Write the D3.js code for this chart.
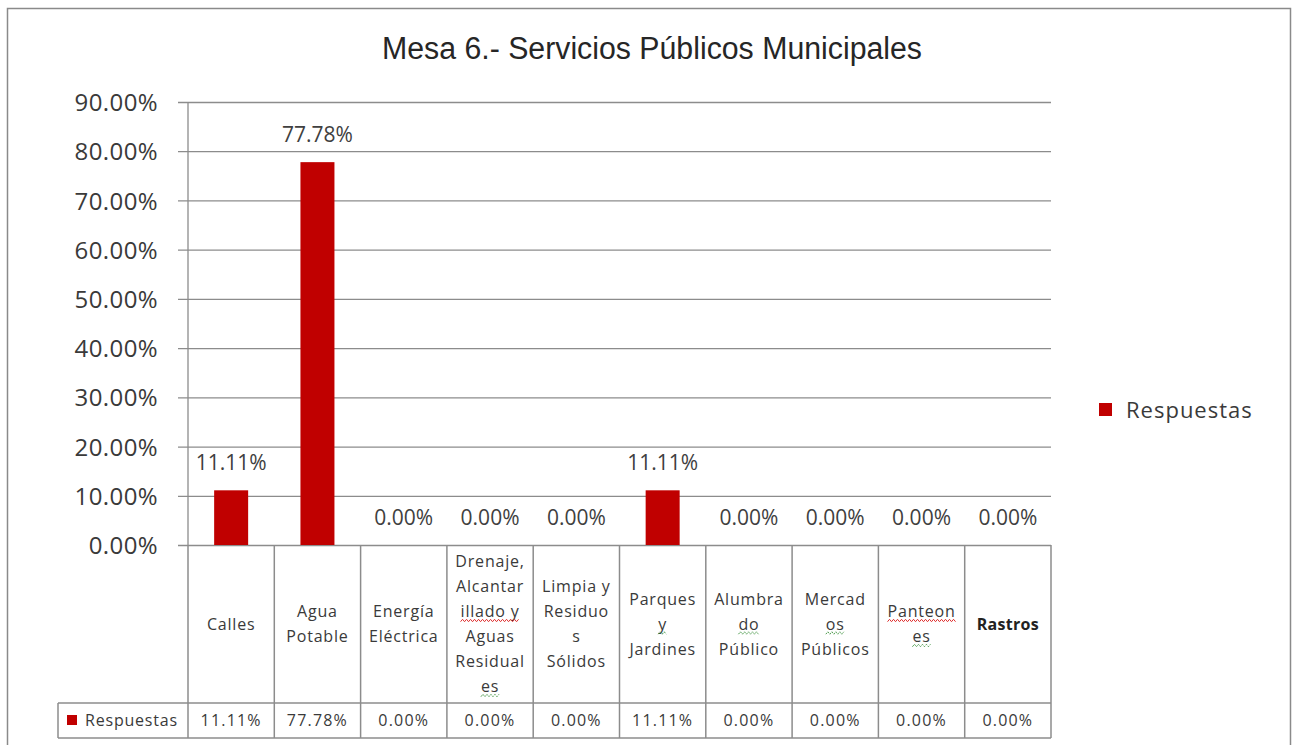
<!DOCTYPE html>
<html>
<head>
<meta charset="utf-8">
<script src="https://cdn.jsdelivr.net/npm/d3@7"></script>
<style>
  html, body { margin: 0; padding: 0; background: #ffffff; }
  svg { display: block; }
</style>
</head>
<body>
<svg id="chart" width="1293" height="745"></svg>
<script>
// Survey results, Mesa 6 – municipal public services
const chartTitle = "Mesa 6.- Servicios Públicos Municipales";
const seriesName = "Respuestas";
const categories = [
  "Calles", "Agua Potable", "Energía Eléctrica",
  "Drenaje, Alcantarillado y Aguas Residuales",
  "Limpia y Residuos Sólidos", "Parques y Jardines",
  "Alumbrado Público", "Mercados Públicos", "Panteones", "Rastros"
];
// Category text as it wraps inside the data-table cells
const categoryLines = [
  ["Calles"],
  ["Agua", "Potable"],
  ["Energía", "Eléctrica"],
  ["Drenaje,", "Alcantar", "illado y", "Aguas", "Residual", "es"],
  ["Limpia y", "Residuo", "s", "Sólidos"],
  ["Parques", "y", "Jardines"],
  ["Alumbra", "do", "Público"],
  ["Mercad", "os", "Públicos"],
  ["Panteon", "es"],
  ["Rastros"]
];
const values = [0.1111, 0.7778, 0, 0, 0, 0.1111, 0, 0, 0, 0];
const yTicks = [0, 0.1, 0.2, 0.3, 0.4, 0.5, 0.6, 0.7, 0.8, 0.9];
// Proofing marks on wrapped words: [category, line, kind]
const proofMarks = [
  [3, 2, "spell"], [3, 5, "grammar"], [5, 1, "grammar"],
  [6, 1, "grammar"], [7, 1, "grammar"], [8, 0, "spell"], [8, 1, "grammar"]
];

const svg = d3.select("#chart");
const barColor = "#c00000";
const lineColor = "#8c8c8c";
const textColor = "#3a3a3a";
const baseFont = "'Open Sans', 'DejaVu Sans', sans-serif";

// Outer frame
svg.append("rect")
  .attr("x", 7.5).attr("y", 8.5).attr("width", 1283).attr("height", 745)
  .attr("fill", "#ffffff").attr("stroke", "#8a8a8a").attr("stroke-width", 1.5);

const plotLeft = 188, plotRight = 1051, plotTop = 102, plotBottom = 545;
const tableMid = 703, tableBottom = 738, tableLeft = 58;

const x = d3.scaleBand().domain(categories).range([plotLeft, plotRight]).padding(0);
const y = d3.scaleLinear().domain([0, 0.9]).range([plotBottom, plotTop]);
const pct = d3.format(".2%");

// Title
svg.append("text")
  .attr("x", 652).attr("y", 59)
  .attr("text-anchor", "middle")
  .attr("font-family", "'Liberation Sans', Arial, sans-serif")
  .attr("font-size", 31)
  .attr("textLength", 540).attr("lengthAdjust", "spacingAndGlyphs")
  .attr("fill", "#262626")
  .text(chartTitle);

// Horizontal gridlines with tick stubs, and value labels
const yAxis = d3.axisLeft(y).tickValues(yTicks).tickFormat(pct)
  .tickSize(-(plotRight - 178)).tickPadding(20);
const gy = svg.append("g").attr("transform", `translate(178,0)`).call(yAxis);
gy.select(".domain").remove();
gy.selectAll(".tick line")
  .attr("transform", `translate(${plotRight - 178},0)`)
  .attr("x1", -(plotRight - 178)).attr("x2", 0)
  .attr("stroke", lineColor).attr("stroke-width", 1.3);
gy.selectAll(".tick text")
  .attr("x", 158 - 178)
  .attr("dy", "0.36em")
  .attr("font-family", baseFont).attr("font-size", 24)
  .attr("letter-spacing", 0.4)
  .attr("fill", textColor);

// Vertical value axis
svg.append("line")
  .attr("x1", plotLeft).attr("x2", plotLeft)
  .attr("y1", y(0.9)).attr("y2", plotBottom)
  .attr("stroke", lineColor).attr("stroke-width", 1.3);

// Bars
const barWidth = 34;
svg.append("g").selectAll("rect").data(values).join("rect")
  .attr("x", (d, i) => x(categories[i]) + x.bandwidth() / 2 - barWidth / 2)
  .attr("y", d => y(d))
  .attr("width", barWidth)
  .attr("height", d => y(0) - y(d))
  .attr("fill", barColor);

// Data labels above bars
svg.append("g").selectAll("text").data(values).join("text")
  .attr("x", (d, i) => x(categories[i]) + x.bandwidth() / 2)
  .attr("y", d => y(d) - 20)
  .attr("text-anchor", "middle")
  .attr("font-family", baseFont).attr("font-size", 21)
  .attr("fill", "#404040")
  .text(d => pct(d));

// Data table grid
const table = svg.append("g")
  .attr("stroke", lineColor).attr("stroke-width", 1.5).attr("fill", "none");
const colEdges = categories.map(c => x(c)).concat([plotRight]);
table.selectAll("line.col").data(colEdges).join("line")
  .attr("class", "col")
  .attr("x1", d => d).attr("x2", d => d)
  .attr("y1", plotBottom).attr("y2", tableBottom);
table.append("line").attr("x1", tableLeft).attr("x2", plotRight)
  .attr("y1", tableMid).attr("y2", tableMid);
table.append("line").attr("x1", tableLeft).attr("x2", plotRight)
  .attr("y1", tableBottom).attr("y2", tableBottom);
table.append("line").attr("x1", tableLeft).attr("x2", tableLeft)
  .attr("y1", tableMid).attr("y2", tableBottom);

// Category labels in the table header cells
const lineGap = 25, cellMid = (plotBottom + tableMid) / 2;
const catGroups = svg.append("g").selectAll("g").data(categoryLines).join("g")
  .attr("transform", (d, i) => `translate(${x(categories[i]) + x.bandwidth() / 2},0)`);
catGroups.each(function (lines, i) {
  const g = d3.select(this);
  const first = cellMid - (lines.length - 1) * lineGap / 2;
  g.selectAll("text").data(lines).join("text")
    .attr("x", 0)
    .attr("y", (d, j) => first + j * lineGap)
    .attr("dy", "0.36em")
    .attr("text-anchor", "middle")
    .attr("font-family", baseFont)
    .attr("font-size", i === 9 ? 16 : 16)
    .attr("font-weight", i === 9 ? 700 : 400)
    .attr("letter-spacing", i === 9 ? 0.3 : 0.8)
    .attr("fill", i === 9 ? "#222222" : textColor)
    .text(d => d);
});

// Proofing underlines (wavy red / dotted green)
proofMarks.forEach(([ci, li, kind]) => {
  const lines = categoryLines[ci];
  const first = cellMid - (lines.length - 1) * lineGap / 2;
  const node = catGroups.filter((d, k) => k === ci).selectAll("text").nodes()[li];
  const bb = node.getBBox();
  const cx = x(categories[ci]) + x.bandwidth() / 2;
  const x0 = cx + bb.x, x1 = cx + bb.x + bb.width;
  const yy = first + li * lineGap + 9;
  const pts = [];
  for (let px = x0, k = 0; px <= x1; px += 2, k++) pts.push([px, yy + (k % 2 ? -1.2 : 1.2)]);
  svg.append("path")
    .attr("d", d3.line()(pts))
    .attr("fill", "none")
    .attr("stroke", kind === "spell" ? "#e03030" : "#4a9a4a")
    .attr("stroke-width", 1)
    .attr("stroke-dasharray", kind === "spell" ? null : "2,1");
});

// Values row of the data table
const valueRowMid = (tableMid + tableBottom) / 2;
svg.append("g").selectAll("text").data(values).join("text")
  .attr("x", (d, i) => x(categories[i]) + x.bandwidth() / 2)
  .attr("y", valueRowMid)
  .attr("dy", "0.36em")
  .attr("text-anchor", "middle")
  .attr("font-family", baseFont).attr("font-size", 16)
  .attr("letter-spacing", 1.2)
  .attr("fill", textColor)
  .text(d => pct(d));

// Series key inside the table
svg.append("rect")
  .attr("x", 67).attr("y", valueRowMid - 5.5).attr("width", 10).attr("height", 10)
  .attr("fill", barColor);
svg.append("text")
  .attr("x", 85).attr("y", valueRowMid).attr("dy", "0.36em")
  .attr("font-family", baseFont).attr("font-size", 16)
  .attr("letter-spacing", 0.8)
  .attr("fill", textColor)
  .text(seriesName);

// Legend
const legend = svg.append("g").attr("transform", "translate(1099,410)");
legend.append("rect")
  .attr("x", 0).attr("y", -7).attr("width", 13).attr("height", 13)
  .attr("fill", barColor);
legend.append("text")
  .attr("x", 27).attr("y", 0).attr("dy", "0.36em")
  .attr("font-family", baseFont).attr("font-size", 22)
  .attr("letter-spacing", 1)
  .attr("fill", textColor)
  .text(seriesName);
</script>
</body>
</html>
